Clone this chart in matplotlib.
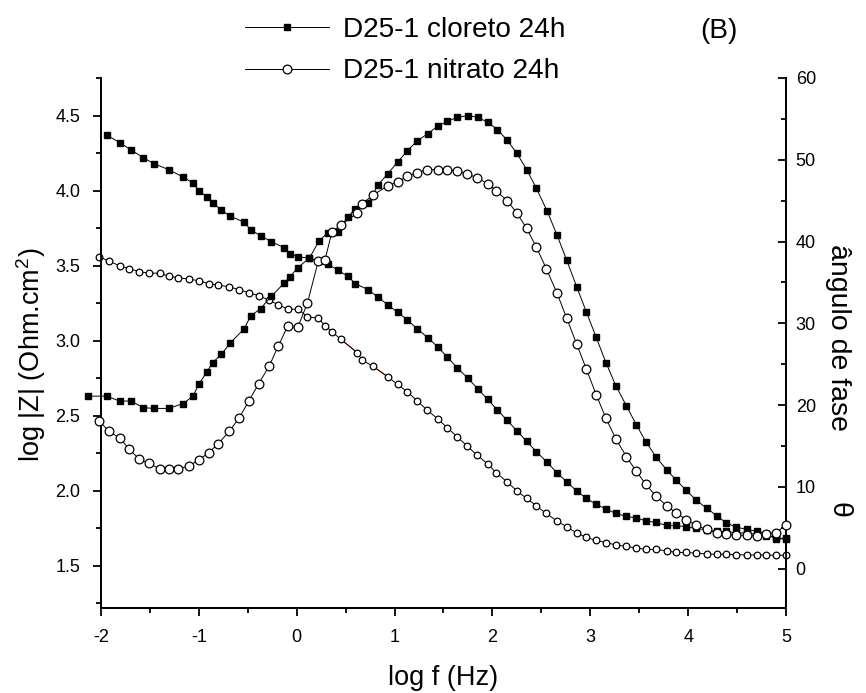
import matplotlib
matplotlib.use('Agg')
import matplotlib.pyplot as plt
from matplotlib.lines import Line2D
from matplotlib.ticker import MultipleLocator

plt.rcParams['font.family'] = ['Liberation Sans', 'DejaVu Sans']
plt.rcParams['mathtext.fontset'] = 'custom'
plt.rcParams['mathtext.rm'] = 'Liberation Sans'
plt.rcParams['axes.unicode_minus'] = False

# --- data (log f in Hz) ---
# D25-1 cloreto 24h
x_cl = [-1.94, -1.81, -1.69, -1.57, -1.46, -1.31, -1.16, -1.06, -1.00, -0.92,
        -0.86, -0.77, -0.68, -0.54, -0.47, -0.37, -0.26, -0.13, -0.07, 0.01,
        0.13, 0.23, 0.32, 0.42, 0.52, 0.60, 0.73, 0.83, 0.93,
        1.03, 1.13, 1.23, 1.34, 1.44, 1.54, 1.64, 1.75, 1.85, 1.95,
        2.05, 2.15, 2.25, 2.35, 2.45, 2.56, 2.66, 2.76, 2.86, 2.96,
        3.06, 3.16, 3.26, 3.37, 3.47, 3.57, 3.67, 3.78, 3.88, 3.98,
        4.08, 4.19, 4.29, 4.39, 4.49, 4.60, 4.70, 4.80, 4.90, 5.00]
z_cl = [4.37, 4.32, 4.27, 4.22, 4.18, 4.14, 4.09, 4.05, 4.00, 3.96,
        3.92, 3.87, 3.83, 3.79, 3.74, 3.70, 3.66, 3.62, 3.58, 3.56,
        3.55, 3.53, 3.51, 3.47, 3.43, 3.38, 3.34, 3.29, 3.24,
        3.19, 3.14, 3.08, 3.02, 2.96, 2.89, 2.82, 2.75, 2.68, 2.61,
        2.54, 2.47, 2.40, 2.33, 2.26, 2.19, 2.12, 2.06, 2.00, 1.95,
        1.91, 1.88, 1.85, 1.83, 1.82, 1.80, 1.79, 1.77, 1.77, 1.76,
        1.75, 1.74, 1.73, 1.73, 1.72, 1.72, 1.71, 1.70, 1.69, 1.68]
x_cl_ph = [-2.13] + x_cl
p_cl = [21.1,
        21.1, 20.5, 20.5, 19.7, 19.6, 19.6, 20.2, 21.1, 22.6, 24.0,
        25.2, 26.2, 27.6, 29.3, 30.9, 31.8, 33.3, 34.9, 35.7, 36.8,
        38.0, 40.1, 41.1, 41.2, 43.0, 44.0, 44.7, 46.9, 48.3,
        49.7, 51.1, 52.3, 53.2, 54.1, 54.7, 55.2, 55.4, 55.2, 54.6,
        53.7, 52.4, 50.8, 48.8, 46.5, 43.7, 40.8, 37.7, 34.5, 31.4,
        28.3, 25.2, 22.4, 19.9, 17.6, 15.5, 13.7, 12.1, 10.8, 9.6,
        8.4, 7.4, 6.5, 5.6, 5.1, 4.8, 4.6, 4.3, 3.6, 3.7]

# D25-1 nitrato 24h
x_ni = [-2.02, -1.92, -1.81, -1.71, -1.61, -1.51, -1.40, -1.31, -1.21, -1.10,
        -1.00, -0.90, -0.80, -0.69, -0.59, -0.49, -0.39, -0.28, -0.19, -0.09,
        0.01, 0.11, 0.22, 0.29, 0.36, 0.45, 0.62, 0.67, 0.78, 0.93,
        1.03, 1.13, 1.23, 1.33, 1.44, 1.54, 1.64, 1.74, 1.84, 1.95,
        2.04, 2.15, 2.25, 2.35, 2.45, 2.55, 2.66, 2.76, 2.86, 2.96,
        3.06, 3.16, 3.26, 3.37, 3.47, 3.57, 3.67, 3.78, 3.88, 3.98,
        4.08, 4.19, 4.29, 4.39, 4.49, 4.60, 4.70, 4.80, 4.90, 5.00]
z_ni = [3.56, 3.53, 3.50, 3.48, 3.46, 3.45, 3.45, 3.43, 3.42, 3.41,
        3.40, 3.38, 3.37, 3.36, 3.34, 3.32, 3.30, 3.27, 3.24, 3.21,
        3.21, 3.16, 3.15, 3.10, 3.06, 3.01, 2.92, 2.87, 2.83, 2.76,
        2.71, 2.66, 2.60, 2.54, 2.48, 2.42, 2.36, 2.30, 2.24, 2.18,
        2.12, 2.06, 2.00, 1.95, 1.90, 1.85, 1.80, 1.76, 1.72, 1.69,
        1.67, 1.656, 1.64, 1.63, 1.62, 1.61, 1.61, 1.60, 1.59, 1.59,
        1.585, 1.58, 1.578, 1.578, 1.576, 1.573, 1.573, 1.573, 1.571, 1.571]
p_ni = [18.1, 16.8, 16.0, 14.6, 13.4, 12.9, 12.2, 12.2, 12.2, 12.6,
        13.3, 14.2, 15.3, 16.8, 18.4, 20.5, 22.6, 24.8, 27.2, 29.7,
        29.5, 32.5, 37.6, 37.8, 41.2, 42.0, 43.5, 44.6, 45.7, 46.8,
        47.3, 48.0, 48.4, 48.8, 48.8, 48.8, 48.6, 48.3, 47.8, 47.1,
        46.2, 45.0, 43.5, 41.6, 39.3, 36.7, 33.7, 30.6, 27.5, 24.4,
        21.3, 18.4, 15.9, 13.7, 11.9, 10.3, 8.9, 7.7, 6.8, 6.0,
        5.3, 4.8, 4.4, 4.2, 4.1, 4.1, 4.0, 4.3, 4.4, 5.4]
red_segments = [25, 28]  # nitrato |Z| gaps drawn in red in the original

labels = ['D25-1 cloreto 24h', 'D25-1 nitrato 24h']

fig = plt.figure(figsize=(8.66, 6.93), dpi=100)
ax = fig.add_axes([101 / 866, 85 / 693, 685 / 866, 530 / 693])
ax2 = ax.twinx()

lw = 0.7
ax.plot(x_cl, z_cl, color='black', lw=lw, marker='s', ms=4.8,
        mfc='black', mec='black', clip_on=False, zorder=3)
ax.plot(x_ni, z_ni, color='black', lw=lw, marker='o', ms=4.8,
        mfc='white', mec='black', mew=0.9, clip_on=False, zorder=3)
for i in red_segments:
    ax.plot(x_ni[i:i + 2], z_ni[i:i + 2], color='red', lw=lw, zorder=2)

ax2.plot(x_cl_ph, p_cl, color='black', lw=lw, marker='s', ms=4.8,
         mfc='black', mec='black', clip_on=False, zorder=3)
ax2.plot(x_ni, p_ni, color='black', lw=lw, marker='o', ms=6.3,
         mfc='white', mec='black', mew=0.9, clip_on=False, zorder=3)

ax.set_xlim(-2, 5)
ax.set_ylim(1.22, 4.75)
ax2.set_ylim(-4.8, 60)

ax.xaxis.set_major_locator(MultipleLocator(1))
ax.xaxis.set_minor_locator(MultipleLocator(0.5))
ax.yaxis.set_major_locator(MultipleLocator(0.5))
ax.yaxis.set_minor_locator(MultipleLocator(0.25))
ax2.yaxis.set_major_locator(MultipleLocator(10))
ax2.yaxis.set_minor_locator(MultipleLocator(5))

for a in (ax, ax2):
    a.spines['top'].set_visible(False)
    for s in ('left', 'right', 'bottom'):
        a.spines[s].set_linewidth(1.3)
ax.tick_params(which='major', direction='out', length=6, width=1.3,
               labelsize=13, pad=9)
ax.tick_params(which='minor', direction='out', length=3.5, width=1.3)
ax2.tick_params(which='major', direction='in', length=6, width=1.3,
                labelsize=13, pad=7)
ax2.tick_params(which='minor', direction='in', length=3.5, width=1.3)

ax.set_xlabel('log f (Hz)', fontsize=19.5, labelpad=14)
ax.set_ylabel('log |Z| (Ohm.cm$^{\\mathrm{2}}$)', fontsize=19.5)
ax.yaxis.set_label_coords(-0.077, 0.477)
ax2.set_ylabel('ângulo de fase', fontsize=20.5, rotation=270, va='center')
ax2.yaxis.set_label_coords(1.076, 0.51)
ax2.text(1.076, 0.185, 'θ', transform=ax2.transAxes, fontsize=20.5,
         rotation=270, ha='center', va='center')

handles = [Line2D([], [], color='black', lw=lw, marker='s', ms=5,
                  mfc='black', mec='black'),
           Line2D([], [], color='black', lw=lw, marker='o', ms=6.3,
                  mfc='white', mec='black', mew=0.9)]
fig.legend(handles, labels, loc='upper left', bbox_to_anchor=(245 / 866, 1 - 17 / 693),
           frameon=False, fontsize=20.2, handlelength=3.0, handletextpad=0.5,
           labelspacing=0.55, borderpad=0, borderaxespad=0)
fig.text(719 / 866, 1 - 31 / 693, '(B)', fontsize=20.2, ha='center', va='center')

fig.savefig('out.png', dpi=100)
